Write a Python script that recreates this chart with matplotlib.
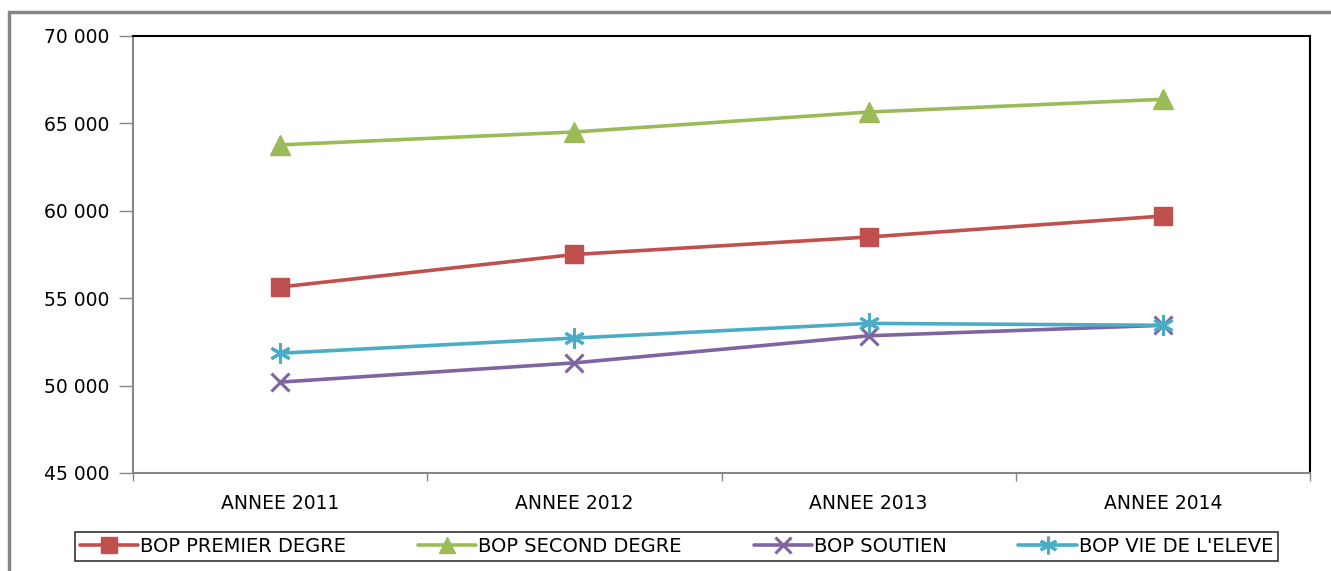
import matplotlib
matplotlib.use("Agg")
import matplotlib.pyplot as plt
from matplotlib.patches import Rectangle
from matplotlib.ticker import FuncFormatter, FixedLocator

categories = ["ANNEE 2011", "ANNEE 2012", "ANNEE 2013", "ANNEE 2014"]
premier_degre = [55640, 57500, 58500, 59700]
second_degre = [63770, 64510, 65650, 66380]
soutien = [50200, 51300, 52850, 53450]
vie_eleve = [51850, 52720, 53560, 53450]

series = [
    ("BOP PREMIER DEGRE", premier_degre, "#C0504D", "s", 13, 1),
    ("BOP SECOND DEGRE", second_degre, "#9BBB59", "^", 14, 1),
    ("BOP SOUTIEN", soutien, "#8064A2", "x", 13, 2.2),
    ("BOP VIE DE L'ELEVE", vie_eleve, "#4BACC6", (6, 2, 0), 15, 2.2),
]

fig = plt.figure(figsize=(13.31, 5.71), dpi=100)
ax = fig.add_axes([133/1331, (571-473)/571, (1310-133)/1331, (473-36)/571])

x = list(range(len(categories)))
handles = []
for name, vals, col, mk, ms, mew in series:
    h, = ax.plot(x, vals, color=col, lw=2.6, marker=mk, markersize=ms,
                 markeredgewidth=mew, markeredgecolor=col, markerfacecolor=col,
                 label=name, solid_capstyle="round")
    handles.append(h)

ax.set_xlim(-0.5, 3.5)
ax.set_ylim(45000, 70000)
ax.set_yticks(range(45000, 70001, 5000))
ax.yaxis.set_major_formatter(FuncFormatter(lambda v, p: f"{int(v):,}".replace(",", " ")))
ax.set_xticks(x)
ax.set_xticklabels(categories)
ax.xaxis.set_minor_locator(FixedLocator([-0.5, 0.5, 1.5, 2.5, 3.5]))
ax.tick_params(axis="x", which="major", length=0, pad=15, labelsize=13.5)
ax.tick_params(axis="x", which="minor", length=6, color="#868686", width=1)
ax.tick_params(axis="y", length=10, color="#868686", width=1, pad=7, labelsize=13.5)

for s in ("left", "bottom"):
    ax.spines[s].set_color("#868686")
    ax.spines[s].set_linewidth(1.5)
for s in ("top", "right"):
    ax.spines[s].set_color("black")
    ax.spines[s].set_linewidth(1.5)

# outer chart border
fig.patches.append(Rectangle((9/1331, -0.1), 1.2, (571-12)/571 + 0.1,
                             transform=fig.transFigure, fill=False,
                             edgecolor="#868686", linewidth=2.5))

leg = fig.legend(handles=handles, loc="center",
                 bbox_to_anchor=(75/1331, (571-566)/571, (1278-75)/1331, 39/571),
                 ncol=4, mode="expand", frameon=True, fancybox=False,
                 edgecolor="black", fontsize=14, handlelength=3.0,
                 handletextpad=0.1, columnspacing=0.8, borderaxespad=0,
                 borderpad=0.25, markerscale=0.85)
leg.get_frame().set_linewidth(1.2)

fig.savefig("out.png", dpi=100)
